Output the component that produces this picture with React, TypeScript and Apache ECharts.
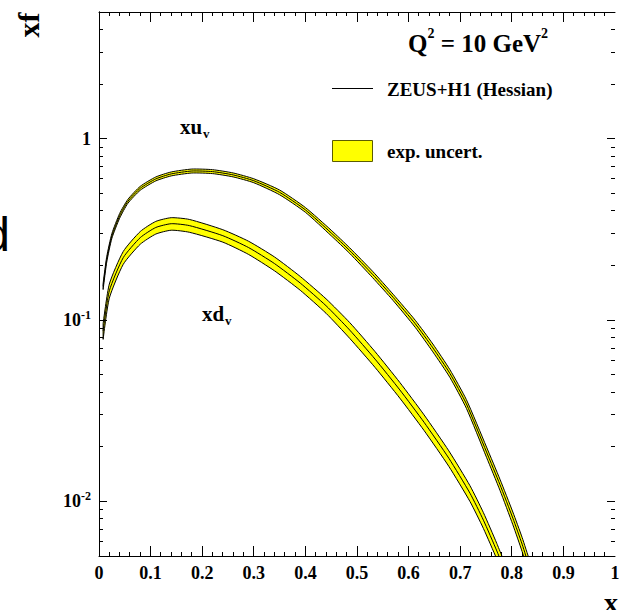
import React, { useEffect, useRef } from 'react';
import * as echarts from 'echarts';

// ---- data (x, central value, lower and upper edge of exp. uncertainty)
const xuX = [0.008, 0.015, 0.025, 0.04, 0.056, 0.08, 0.11, 0.14, 0.18, 0.22, 0.26, 0.30, 0.35, 0.40, 0.45, 0.486, 0.53, 0.57, 0.613, 0.647, 0.68, 0.712, 0.751, 0.777, 0.802, 0.82, 0.835, 0.845];
const xuC = [0.1535, 0.2164, 0.2914, 0.3758, 0.4519, 0.5333, 0.6004, 0.6399, 0.6639, 0.6588, 0.6318, 0.5868, 0.5063, 0.4052, 0.3024, 0.2415, 0.1789, 0.1335, 0.0954, 0.0703, 0.0508, 0.0345, 0.01873, 0.01239, 0.00809, 0.00581, 0.00427, 0.0037];
const xuHi = [0.1596, 0.2240, 0.3001, 0.3871, 0.4632, 0.5466, 0.6154, 0.6559, 0.6805, 0.6753, 0.6476, 0.6015, 0.5215, 0.4174, 0.3130, 0.2500, 0.1861, 0.1388, 0.0997, 0.0738, 0.0533, 0.0364, 0.01995, 0.01326, 0.00874, 0.00633, 0.0047, 0.0041];
const xuLo = [0.1474, 0.2088, 0.2827, 0.3645, 0.4406, 0.5200, 0.5854, 0.6239, 0.6473, 0.6423, 0.6160, 0.5721, 0.4911, 0.3930, 0.2918, 0.2330, 0.1717, 0.1282, 0.0911, 0.0668, 0.0483, 0.0326, 0.01751, 0.01152, 0.00744, 0.00529, 0.00384, 0.0033];

const xdX = [0.008, 0.02, 0.047, 0.08, 0.11, 0.14, 0.175, 0.24, 0.29, 0.34, 0.39, 0.44, 0.486, 0.535, 0.583, 0.63, 0.678, 0.719, 0.745, 0.771, 0.79];
const xdC = [0.087, 0.145, 0.221, 0.285, 0.324, 0.340, 0.332, 0.292, 0.251, 0.205, 0.160, 0.120, 0.088, 0.0609, 0.0412, 0.0273, 0.0173, 0.01109, 0.00788, 0.00533, 0.0039];
const xdHi = [0.0957, 0.158, 0.239, 0.308, 0.350, 0.367, 0.359, 0.315, 0.272, 0.223, 0.174, 0.131, 0.0968, 0.0670, 0.0453, 0.0300, 0.0190, 0.0122, 0.00867, 0.00586, 0.0043];
const xdLo = [0.0783, 0.132, 0.203, 0.262, 0.298, 0.313, 0.305, 0.269, 0.230, 0.187, 0.146, 0.109, 0.0792, 0.0548, 0.0371, 0.0246, 0.0156, 0.00998, 0.00709, 0.0048, 0.0035];

// ---- axes
const X_MIN = 0;
const X_MAX = 1;
const X_INTERVAL = 0.1;
const X_MINOR_STEP = 0.02;
const Y_MIN = 0.005;
const Y_MAX = 5;
const yMajorExp = [-2, -1, 0];
const yMajorVals = [0.01, 0.1, 1];
const yMajorLabels = ['{b|10}{s|-2}', '{b|10}{s|-1}', '{b|1}'];
const yMinorMult = [2, 3, 4, 5, 6, 7, 8, 9];
const yDecades = [0.001, 0.01, 0.1, 1];

const FONT = "'Liberation Serif', 'Times New Roman', serif";

export default function App() {
  const ref = useRef<HTMLDivElement>(null);

  useEffect(() => {
    if (!ref.current) return;
    const chart = echarts.init(ref.current, null, { renderer: 'svg' });

    // tick positions (major flag 2, minor flag 1)
    const yTicks: number[][] = [];
    yMajorVals.forEach((v) => yTicks.push([0.5, v, 2]));
    yDecades.forEach((d) => yMinorMult.forEach((m) => {
      const v = d * m;
      if (v > Y_MIN * 1.0001 && v < Y_MAX * 0.9999) yTicks.push([0.5, v, 1]);
    }));
    const xTicks: number[][] = [];
    const nX = Math.round((X_MAX - X_MIN) / X_MINOR_STEP);
    const perMajor = Math.round(X_INTERVAL / X_MINOR_STEP);
    for (let i = 1; i < nX; i++) xTicks.push([X_MIN + i * X_MINOR_STEP, 1, i % perMajor === 0 ? 2 : 1]);

    const crisp = (v: number) => Math.round(v - 0.5) + 0.5;

    const band = (xs: number[], c: number[], lo: number[], hi: number[]) => (params: any, api: any) => {
      const cs = params.coordSys;
      const up = xs.map((x, i) => api.coord([x, hi[i]]));
      const dn = xs.map((x, i) => api.coord([x, lo[i]]));
      const mid = xs.map((x, i) => api.coord([x, c[i]]));
      const sm = 0.2;
      return {
        type: 'group',
        clipPath: { type: 'rect', shape: { x: cs.x, y: cs.y, width: cs.width, height: cs.height } },
        children: [
          { type: 'polygon', shape: { points: up.concat(dn.slice().reverse()), smooth: sm }, style: { fill: '#ffff00', stroke: null } },
          { type: 'polyline', shape: { points: up, smooth: sm }, style: { fill: null, stroke: '#000', lineWidth: 1 } },
          { type: 'polyline', shape: { points: dn, smooth: sm }, style: { fill: null, stroke: '#000', lineWidth: 1 } },
          { type: 'polyline', shape: { points: mid, smooth: sm }, style: { fill: null, stroke: '#000', lineWidth: 1 } },
          { type: 'line', shape: { x1: up[0][0], y1: up[0][1], x2: dn[0][0], y2: dn[0][1] }, style: { stroke: '#000', lineWidth: 1 } },
        ],
      };
    };

    const xAxisBase = {
      type: 'value',
      min: X_MIN,
      max: X_MAX,
      interval: X_INTERVAL,
      splitLine: { show: false },
      minorSplitLine: { show: false },
      axisLine: { show: true, lineStyle: { color: '#000', width: 1 } },
      axisTick: { show: false },
      minorTick: { show: false },
    };
    const yAxisBase = {
      type: 'log',
      logBase: 10,
      min: Y_MIN,
      max: Y_MAX,
      splitLine: { show: false },
      axisLine: { show: true, lineStyle: { color: '#000', width: 1 } },
      axisTick: { show: false },
    };

    const option: any = {
      animation: false,
      backgroundColor: '#fff',
      grid: { left: 99, right: 4, top: 12, bottom: 54, containLabel: false, outerBoundsMode: 'none' },
      xAxis: [
        {
          ...xAxisBase,
          position: 'bottom',
          axisLabel: {
            show: true,
            margin: 8,
            color: '#000',
            fontFamily: FONT,
            fontWeight: 'bold',
            fontSize: 18,
            formatter: (v: number) => (Math.abs(v) < 1e-9 ? '0' : Math.abs(v - 1) < 1e-9 ? '1' : v.toFixed(1)),
          },
        },
        { ...xAxisBase, position: 'top', axisLabel: { show: false } },
      ],
      yAxis: [
        {
          ...yAxisBase,
          position: 'left',
          axisLabel: {
            show: true,
            margin: 8,
            showMinLabel: false,
            showMaxLabel: false,
            color: '#000',
            formatter: (v: number) => {
              const e = Math.round(Math.log10(v));
              const i = yMajorExp.indexOf(e);
              return i >= 0 ? yMajorLabels[i] : '';
            },
            rich: {
              b: { fontFamily: FONT, fontWeight: 'bold', fontSize: 18, lineHeight: 22, color: '#000' },
              s: { fontFamily: FONT, fontWeight: 'bold', fontSize: 12, lineHeight: 10, verticalAlign: 'top', color: '#000' },
            },
          },
        },
        { ...yAxisBase, position: 'right', axisLabel: { show: false } },
      ],
      series: [
        {
          type: 'custom', silent: true, xAxisIndex: 0, yAxisIndex: 0,
          data: [[0.5, 0.5]],
          renderItem: band(xuX, xuC, xuLo, xuHi),
          z: 3,
        },
        {
          type: 'custom', silent: true, xAxisIndex: 0, yAxisIndex: 0,
          data: [[0.5, 0.5]],
          renderItem: band(xdX, xdC, xdLo, xdHi),
          z: 3,
        },
        {
          // y-axis ticks (left and right, pointing inward)
          type: 'custom', silent: true, xAxisIndex: 0, yAxisIndex: 0,
          data: yTicks,
          renderItem: (params: any, api: any) => {
            const v = api.value(1);
            const len = api.value(2) > 1.5 ? 8 : 4;
            const l = api.coord([X_MIN, v]);
            const r = api.coord([X_MAX, v]);
            const y = crisp(l[1]);
            return {
              type: 'group',
              children: [
                { type: 'line', shape: { x1: l[0], y1: y, x2: l[0] + len, y2: y }, style: { stroke: '#000', lineWidth: 1 } },
                { type: 'line', shape: { x1: r[0] - len, y1: y, x2: r[0], y2: y }, style: { stroke: '#000', lineWidth: 1 } },
              ],
            };
          },
          z: 4,
        },
        {
          // x-axis ticks (bottom and top, pointing inward)
          type: 'custom', silent: true, xAxisIndex: 0, yAxisIndex: 0,
          data: xTicks,
          renderItem: (params: any, api: any) => {
            const v = api.value(0);
            const len = api.value(2) > 1.5 ? 10 : 4;
            const b = api.coord([v, Y_MIN]);
            const t = api.coord([v, Y_MAX]);
            const x = crisp(b[0]);
            return {
              type: 'group',
              children: [
                { type: 'line', shape: { x1: x, y1: b[1], x2: x, y2: b[1] - len }, style: { stroke: '#000', lineWidth: 1 } },
                { type: 'line', shape: { x1: x, y1: t[1], x2: x, y2: t[1] + len }, style: { stroke: '#000', lineWidth: 1 } },
              ],
            };
          },
          z: 4,
        },
      ],
      graphic: [
        {
          type: 'text', x: 28, y: 25, rotation: Math.PI / 2, silent: true,
          style: { text: 'xf', font: `bold 30px ${FONT}`, fill: '#000', align: 'center', verticalAlign: 'middle' },
        },
        {
          type: 'text', x: 611, y: 602, silent: true,
          style: { text: 'x', font: `bold 28px ${FONT}`, fill: '#000', align: 'center', verticalAlign: 'middle' },
        },
        {
          type: 'text', x: 10, y: 234, silent: true,
          style: { text: 'd', font: `48px 'Liberation Sans', Arial, sans-serif`, fill: '#000', align: 'right', verticalAlign: 'middle' },
        },
        {
          type: 'text', x: 408, y: 43.5, silent: true,
          style: {
            text: '{b|Q}{s|2}{b| = 10 GeV}{s|2}',
            align: 'left',
            verticalAlign: 'middle',
            rich: {
              b: { fontFamily: FONT, fontWeight: 'bold', fontSize: 25, lineHeight: 34, fill: '#000' },
              s: { fontFamily: FONT, fontWeight: 'bold', fontSize: 14, lineHeight: 15, verticalAlign: 'top', fill: '#000' },
            },
          },
        },
        { type: 'line', silent: true, shape: { x1: 332, y1: 88.5, x2: 373, y2: 88.5 }, style: { stroke: '#000', lineWidth: 1 } },
        {
          type: 'text', x: 387, y: 89.5, silent: true,
          style: { text: 'ZEUS+H1 (Hessian)', font: `bold 19px ${FONT}`, fill: '#000', align: 'left', verticalAlign: 'middle' },
        },
        { type: 'rect', silent: true, shape: { x: 332.5, y: 140.5, width: 40, height: 21 }, style: { fill: '#ffff00', stroke: '#5c5c00', lineWidth: 1 } },
        {
          type: 'text', x: 387, y: 151, silent: true,
          style: { text: 'exp. uncert.', font: `bold 19px ${FONT}`, fill: '#000', align: 'left', verticalAlign: 'middle' },
        },
        {
          type: 'text', x: 180, y: 127, silent: true,
          style: { text: 'xu', font: `bold 21px ${FONT}`, fill: '#000', align: 'left', verticalAlign: 'middle' },
        },
        {
          type: 'text', x: 203, y: 133, silent: true,
          style: { text: 'v', font: `bold 13px ${FONT}`, fill: '#000', align: 'left', verticalAlign: 'middle' },
        },
        {
          type: 'text', x: 202, y: 314, silent: true,
          style: { text: 'xd', font: `bold 21px ${FONT}`, fill: '#000', align: 'left', verticalAlign: 'middle' },
        },
        {
          type: 'text', x: 225, y: 320, silent: true,
          style: { text: 'v', font: `bold 13px ${FONT}`, fill: '#000', align: 'left', verticalAlign: 'middle' },
        },
      ],
    };

    chart.setOption(option);
    return () => chart.dispose();
  }, []);

  return (
    <div
      ref={ref}
      style={{ position: 'fixed', left: 0, top: 0, width: 619, height: 610, background: '#fff' }}
    />
  );
}
